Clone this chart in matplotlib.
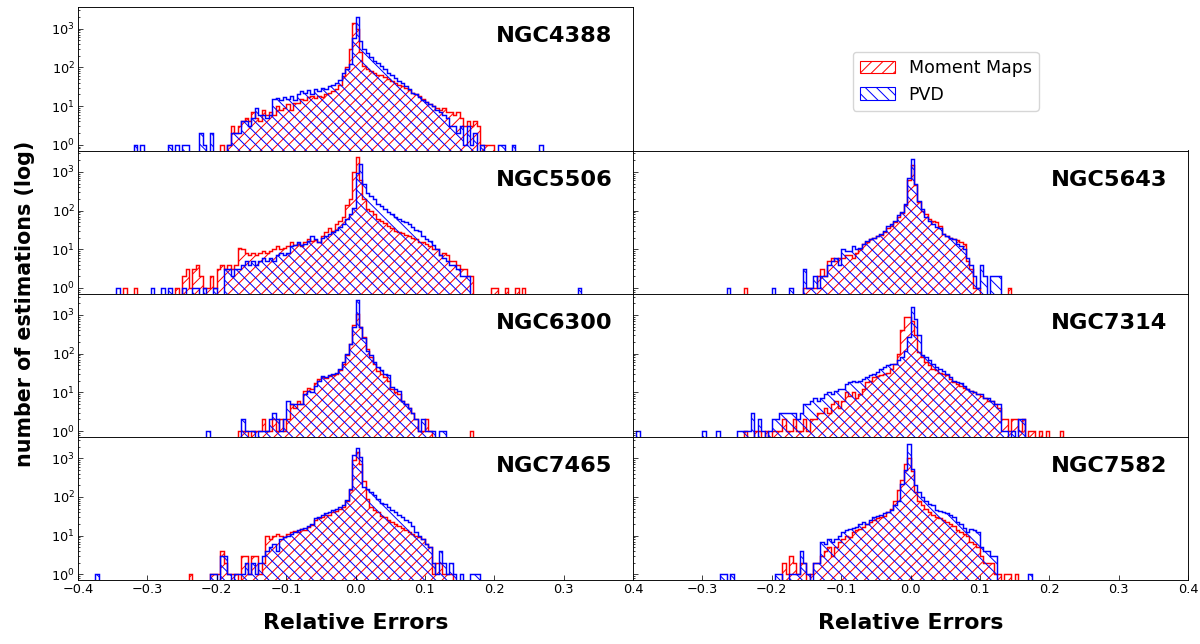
import numpy as np
import matplotlib
matplotlib.use('Agg')
import matplotlib.pyplot as plt
from matplotlib.patches import Patch

# histogram counts, bin width 0.005
# each series starts at its own left bin edge (x0)
bin_w = 0.005

ngc4388_mm_x0 = -0.200
ngc4388_mm = [
    0, 1, 0, 1, 3, 2, 3, 4, 5, 4,
    7, 5, 4, 8, 6, 7, 6, 10, 8, 9,
    11, 8, 12, 12, 15, 14, 17, 18, 16, 18,
    17, 20, 22, 25, 28, 35, 60, 100, 300, 1400,
    1000, 250, 110, 90, 80, 70, 62, 63, 55, 50,
    44, 40, 36, 33, 30, 26, 22, 20, 18, 15,
    13, 11, 10, 9, 8, 9, 7, 7, 6, 7,
    5, 3, 4, 3, 4, 3, 1, 1, 1, 1]
ngc4388_pvd_x0 = -0.320
ngc4388_pvd = [
    1, 0, 1, 0, 0, 0, 0, 0, 0, 0,
    1, 0, 1, 0, 1, 1, 0, 0, 0, 2,
    1, 0, 2, 0, 0, 0, 0, 1, 2, 2,
    2, 4, 4, 3, 5, 9, 6, 6, 5, 6,
    15, 16, 14, 17, 15, 18, 14, 20, 24, 22,
    26, 20, 28, 25, 30, 28, 33, 35, 40, 48,
    70, 90, 120, 580, 1960, 480, 300, 240, 190, 150,
    130, 110, 90, 70, 62, 52, 45, 40, 33, 28,
    22, 20, 17, 14, 13, 11, 10, 8, 7, 6,
    5, 3, 3, 2, 3, 1, 3, 1, 2, 0,
    1, 0, 0, 0, 0, 1, 1, 0, 0, 1,
    0, 0, 0, 0, 0, 0, 0, 1]

ngc5506_mm_x0 = -0.335
ngc5506_mm = [
    1, 0, 0, 1, 0, 0, 0, 0, 0, 0,
    0, 0, 0, 0, 0, 1, 0, 2, 3, 1,
    3, 4, 2, 1, 1, 2, 1, 3, 4, 3,
    4, 3, 4, 11, 10, 8, 7, 8, 7, 8,
    9, 8, 9, 10, 12, 10, 11, 12, 15, 13,
    14, 12, 15, 18, 16, 17, 15, 22, 28, 35,
    30, 45, 55, 70, 140, 200, 1000, 2400, 600, 200,
    110, 95, 80, 60, 55, 48, 40, 35, 30, 28,
    26, 24, 22, 20, 18, 15, 15, 14, 12, 10,
    10, 7, 8, 7, 5, 5, 4, 3, 3, 2,
    2, 0, 0, 0, 0, 0, 1, 1, 0, 0,
    1, 0, 0, 1, 0, 1]
ngc5506_pvd_x0 = -0.345
ngc5506_pvd = [
    1, 0, 0, 0, 0, 0, 0, 0, 0, 0,
    1, 0, 0, 1, 0, 1, 0, 0, 0, 1,
    0, 0, 1, 1, 0, 1, 0, 0, 1, 0,
    0, 3, 3, 2, 3, 3, 4, 5, 4, 5,
    4, 5, 6, 5, 6, 5, 7, 8, 7, 8,
    12, 13, 15, 13, 14, 16, 22, 18, 15, 20,
    22, 25, 28, 32, 38, 45, 60, 80, 120, 950,
    1620, 490, 280, 240, 200, 150, 130, 110, 90, 80,
    70, 62, 55, 50, 45, 38, 32, 30, 22, 18,
    16, 13, 10, 7, 6, 5, 4, 4, 3, 2,
    2, 2, 0, 0, 0, 0, 0, 0, 0, 0,
    0, 0, 0, 0, 0, 0, 0, 0, 0, 0,
    0, 0, 0, 0, 0, 0, 0, 0, 0, 0,
    0, 0, 0, 1]

ngc6300_mm_x0 = -0.170
ngc6300_mm = [
    1, 1, 1, 0, 1, 1, 1, 2, 1, 1,
    2, 1, 2, 1, 2, 5, 4, 6, 5, 11,
    13, 12, 17, 22, 25, 24, 27, 28, 30, 38,
    55, 95, 180, 560, 1050, 500, 270, 130, 80, 55,
    35, 30, 25, 20, 12, 10, 9, 6, 5, 4,
    3, 2, 1, 1, 2, 1, 0, 0, 0, 0,
    0, 0, 0, 0, 0, 0, 0, 1]
ngc6300_pvd_x0 = -0.215
ngc6300_pvd = [
    1, 0, 0, 0, 0, 0, 0, 0, 0, 0,
    2, 1, 1, 1, 0, 1, 1, 1, 2, 3,
    2, 1, 2, 6, 5, 5, 5, 5, 9, 11,
    10, 15, 20, 27, 25, 28, 30, 32, 40, 60,
    100, 180, 490, 2400, 480, 250, 120, 90, 60, 45,
    38, 30, 28, 14, 12, 11, 6, 5, 4, 3,
    2, 1, 2, 1, 1, 1, 0, 1, 1]

ngc7465_mm_x0 = -0.240
ngc7465_mm = [
    1, 0, 0, 0, 0, 0, 1, 1, 1, 4,
    2, 1, 1, 1, 0, 3, 3, 1, 3, 3,
    1, 2, 10, 8, 10, 11, 10, 9, 11, 12,
    13, 12, 15, 14, 17, 19, 25, 28, 30, 33,
    35, 40, 42, 48, 55, 80, 150, 900, 1450, 700,
    250, 90, 55, 45, 40, 32, 30, 25, 22, 20,
    18, 16, 14, 12, 11, 10, 9, 8, 6, 5,
    1, 2, 2, 1, 1, 1]
ngc7465_pvd_x0 = -0.375
ngc7465_pvd = [
    1, 0, 0, 0, 0, 0, 0, 0, 0, 0,
    0, 0, 0, 0, 0, 0, 0, 0, 0, 0,
    0, 0, 0, 0, 0, 0, 0, 0, 0, 0,
    0, 0, 0, 1, 1, 0, 3, 3, 1, 0,
    1, 1, 1, 2, 1, 2, 1, 2, 3, 4,
    5, 6, 4, 8, 9, 10, 11, 12, 14, 15,
    16, 18, 20, 28, 30, 33, 38, 40, 45, 50,
    55, 60, 83, 160, 1200, 1870, 1100, 180, 160, 130,
    110, 90, 70, 65, 55, 45, 40, 33, 30, 25,
    22, 18, 12, 10, 8, 6, 5, 2, 1, 4,
    2, 1, 2, 1, 0, 1, 0, 0, 1, 1,
    1]

ngc5643_mm_x0 = -0.240
ngc5643_mm = [
    1, 0, 0, 0, 0, 0, 0, 0, 0, 0,
    0, 0, 0, 0, 0, 0, 0, 1, 1, 1,
    1, 2, 3, 2, 5, 6, 5, 6, 6, 7,
    7, 6, 8, 10, 14, 15, 18, 20, 22, 24,
    28, 35, 40, 50, 70, 85, 140, 600, 1500, 450,
    170, 100, 80, 60, 55, 50, 40, 25, 22, 20,
    18, 17, 15, 14, 5, 3, 1, 1, 0, 0,
    0, 0, 0, 0, 0, 0, 1]
ngc5643_pvd_x0 = -0.265
ngc5643_pvd = [
    1, 0, 0, 0, 0, 0, 0, 0, 0, 0,
    0, 0, 0, 1, 0, 0, 0, 0, 1, 0,
    0, 0, 3, 1, 1, 2, 1, 2, 2, 4,
    5, 6, 4, 10, 9, 9, 12, 10, 11, 14,
    16, 18, 20, 22, 25, 30, 40, 45, 55, 75,
    90, 150, 700, 2100, 490, 180, 110, 70, 55, 45,
    38, 35, 25, 22, 20, 18, 14, 12, 10, 6,
    4, 2, 1, 4, 2, 0, 2, 2, 2]

ngc7314_mm_x0 = -0.240
ngc7314_mm = [
    1, 0, 0, 1, 1, 0, 1, 0, 1, 1,
    1, 2, 1, 1, 2, 1, 1, 2, 1, 2,
    2, 3, 3, 4, 3, 5, 6, 4, 6, 10,
    8, 10, 7, 9, 12, 18, 20, 25, 27, 28,
    30, 32, 40, 55, 100, 400, 900, 900, 700, 300,
    110, 80, 60, 50, 40, 38, 32, 30, 28, 22,
    18, 16, 15, 13, 12, 11, 10, 9, 8, 7,
    6, 6, 5, 4, 2, 2, 1, 2, 2, 1,
    2, 0, 1, 1, 0, 1, 0, 1, 0, 0,
    0, 1]
ngc7314_pvd_x0 = -0.395
ngc7314_pvd = [
    1, 0, 0, 0, 0, 0, 0, 0, 0, 0,
    0, 0, 0, 0, 0, 0, 0, 0, 0, 1,
    0, 0, 0, 1, 0, 0, 0, 0, 0, 1,
    1, 1, 1, 3, 0, 2, 1, 0, 1, 2,
    2, 3, 3, 3, 3, 3, 2, 3, 5, 5,
    6, 7, 6, 7, 9, 10, 9, 11, 12, 12,
    16, 18, 20, 18, 20, 22, 25, 28, 30, 33,
    40, 45, 50, 55, 55, 70, 80, 120, 270, 1580,
    780, 300, 95, 80, 70, 55, 45, 40, 35, 30,
    25, 20, 18, 17, 15, 12, 11, 10, 9, 9,
    7, 7, 6, 5, 5, 1, 1, 0, 1, 0,
    2, 2]

ngc7582_mm_x0 = -0.185
ngc7582_mm = [
    2, 1, 3, 2, 1, 2, 2, 0, 1, 2,
    2, 3, 4, 5, 3, 5, 7, 8, 10, 9,
    12, 14, 15, 17, 20, 22, 25, 28, 30, 32,
    40, 50, 80, 150, 280, 700, 1020, 460, 130, 80,
    60, 50, 40, 35, 30, 28, 25, 22, 20, 18,
    14, 12, 11, 10, 7, 6, 5, 3, 2, 2,
    2, 1, 1, 0, 1, 1, 0, 1]
ngc7582_pvd_x0 = -0.275
ngc7582_pvd = [
    1, 1, 0, 1, 0, 0, 0, 0, 0, 0,
    0, 0, 0, 0, 0, 0, 1, 1, 0, 0,
    1, 1, 1, 4, 2, 1, 0, 2, 2, 7,
    6, 8, 7, 8, 10, 12, 14, 15, 16, 17,
    20, 22, 20, 25, 30, 32, 35, 38, 40, 45,
    60, 80, 220, 500, 2350, 530, 200, 130, 100, 80,
    65, 60, 45, 42, 40, 38, 35, 30, 22, 20,
    16, 12, 15, 14, 12, 5, 4, 4, 3, 3,
    0, 0, 0, 0, 0, 0, 0, 0, 0, 1]

# (label, row, column, moment maps, pvd)
panels = [
    ('NGC4388', 0, 0, ngc4388_mm_x0, ngc4388_mm, ngc4388_pvd_x0, ngc4388_pvd),
    ('NGC5506', 1, 0, ngc5506_mm_x0, ngc5506_mm, ngc5506_pvd_x0, ngc5506_pvd),
    ('NGC5643', 1, 1, ngc5643_mm_x0, ngc5643_mm, ngc5643_pvd_x0, ngc5643_pvd),
    ('NGC6300', 2, 0, ngc6300_mm_x0, ngc6300_mm, ngc6300_pvd_x0, ngc6300_pvd),
    ('NGC7314', 2, 1, ngc7314_mm_x0, ngc7314_mm, ngc7314_pvd_x0, ngc7314_pvd),
    ('NGC7465', 3, 0, ngc7465_mm_x0, ngc7465_mm, ngc7465_pvd_x0, ngc7465_pvd),
    ('NGC7582', 3, 1, ngc7582_mm_x0, ngc7582_mm, ngc7582_pvd_x0, ngc7582_pvd),
]

DPI = 100
S = 66 / DPI  # sizes below were tuned in points at 66 dpi
HATCH_MM = '///'
HATCH_PVD = '\\\\\\'


def draw_hist(ax, x0, counts, color, hatch):
    counts = np.asarray(counts, dtype=float)
    edges = x0 + bin_w * np.arange(len(counts) + 1)
    # empty bins drop below the visible range on the log axis
    vals = np.where(counts > 0, counts, 0.1)
    ax.stairs(vals, edges, baseline=0.1, fill=True, facecolor='none',
              edgecolor=color, hatch=hatch, lw=1.6 * S)


plt.rcParams['hatch.linewidth'] = 1.1 * S
fig = plt.figure(figsize=(12, 6.44), dpi=DPI)

W, H = 1200.0, 644.0
col_x = [78 / W, 633 / W]
ax_w = 555 / W
row_bottom = [150.5, 293.7, 436.8, 580.0]
ax_h = 143.2 / H

for label, row, col, mm_x0, mm, pvd_x0, pvd in panels:
    ax = fig.add_axes([col_x[col], 1 - row_bottom[row] / H, ax_w, ax_h])
    draw_hist(ax, mm_x0, mm, 'red', HATCH_MM)
    draw_hist(ax, pvd_x0, pvd, 'blue', HATCH_PVD)
    ax.set_yscale('log')
    ax.set_xlim(-0.4, 0.4)
    ax.set_ylim(0.71, 3570)
    ax.text(0.753, 0.797, label, transform=ax.transAxes, fontsize=24.5 * S,
            fontweight='bold', va='center', ha='left')
    ax.tick_params(which='both', direction='in', width=0.8 * S)
    ax.tick_params(which='major', length=5 * S, labelsize=14 * S, pad=3.5 * S)
    ax.tick_params(which='minor', length=2.5 * S)
    for sp in ax.spines.values():
        sp.set_linewidth(1.0 * S)
    if col == 1:
        ax.tick_params(labelleft=False)
    if row < 3:
        ax.tick_params(axis='x', bottom=False, labelbottom=False)
    elif col == 0:
        ax.set_xticks([-0.4, -0.3, -0.2, -0.1, 0.0, 0.1, 0.2, 0.3, 0.4])
    else:
        ax.set_xticks([-0.3, -0.2, -0.1, 0.0, 0.1, 0.2, 0.3, 0.4])

handles = [Patch(facecolor='none', edgecolor='red', hatch=HATCH_MM, lw=1.2 * S),
           Patch(facecolor='none', edgecolor='blue', hatch=HATCH_PVD, lw=1.2 * S)]
fig.legend(handles, ['Moment Maps', 'PVD'], loc='upper left',
           bbox_to_anchor=(853 / W, 1 - 52 / H), fontsize=19 * S,
           borderaxespad=0)

fig.text(355.5 / W, 1 - 629 / H, 'Relative Errors', fontsize=24 * S,
         fontweight='bold', ha='center', va='baseline')
fig.text(910.5 / W, 1 - 629 / H, 'Relative Errors', fontsize=24 * S,
         fontweight='bold', ha='center', va='baseline')
fig.text(25 / W, 1 - 304 / H, 'number of estimations (log)', fontsize=22.5 * S,
         fontweight='bold', rotation=90, ha='center', va='center')

fig.savefig('out.png', dpi=DPI)
